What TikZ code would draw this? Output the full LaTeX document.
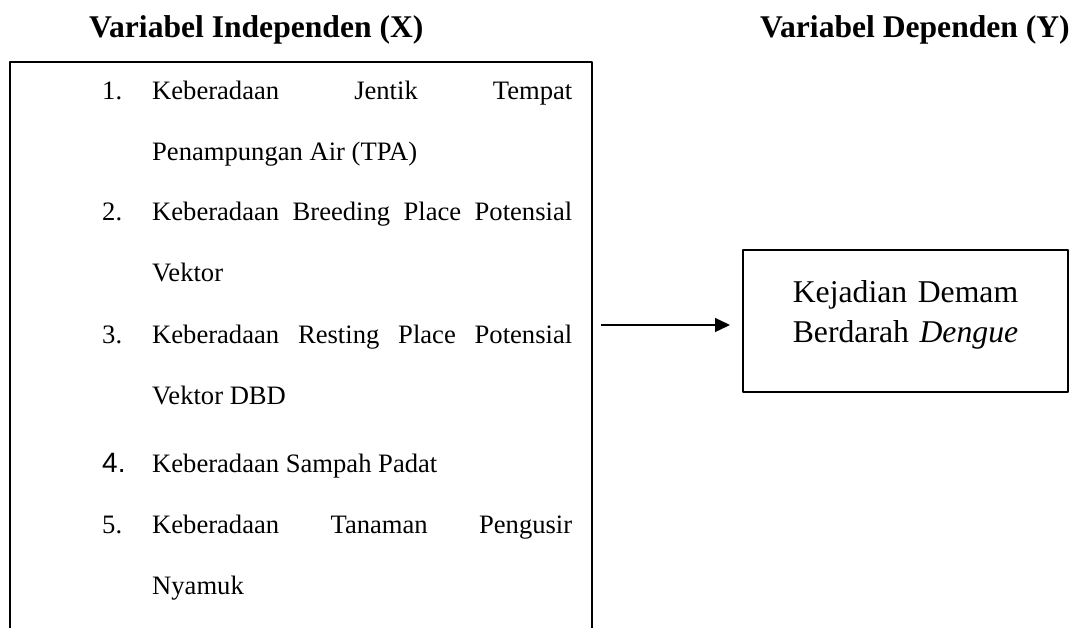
\documentclass[tikz,border=0pt]{standalone}
\usepackage{fontspec}
\setmainfont{Liberation Serif}
\newfontfamily\angkafont{Liberation Sans}
\usetikzlibrary{arrows.meta,calc}
\tolerance=10000
\hyphenpenalty=10000
\tikzset{
  every picture/.style={line join=round, >=Stealth},
  judul/.style={anchor=base west, inner sep=0pt, font=\fontsize{31.6}{37}\selectfont\bfseries},
  nomor/.style={anchor=base west, inner sep=0pt, font=\fontsize{26.6}{61}\selectfont},
  butir/.style={anchor=base west, inner sep=0pt, text width=420pt, align=justify, font=\fontsize{26.6}{61}\selectfont},
  kotak/.style={draw, line width=2pt, inner sep=0pt, outer sep=0pt},
  panah/.style={-{Triangle[length=15pt,width=14pt]}, line width=1.3pt},
}

\begin{document}
\begin{tikzpicture}[x=1pt,y=-1pt]
\useasboundingbox (0,0) rectangle (1075,628);
% judul
\node[judul] (judulx) at (89,38) {Variabel Independen (X)};
\node[judul] (juduly) at (760,38) {Variabel Dependen (Y)};
% kotak X, terpotong di bawah
\node[kotak, line width=2.4pt, minimum width=582pt, minimum height=638pt] (indep) at (301,381) {};
\node[nomor] (n1) at (102,100) {1.};
\node[butir] (b1) at (152,100) {Keberadaan Jentik Tempat\linebreak Penampungan Air (TPA)};
\node[nomor] (n2) at (102,221) {2.};
\node[butir] (b2) at (152,221) {Keberadaan Breeding Place Potensial\linebreak Vektor};
\node[nomor] (n3) at (102,343) {3.};
\node[butir] (b3) at (152,343) {Keberadaan Resting Place Potensial\linebreak Vektor DBD};
\node[nomor, font=\angkafont\fontsize{28}{61}\selectfont] (n4) at (102,472) {4.};
\node[butir] (b4) at (152,472) {Keberadaan Sampah Padat};
\node[nomor] (n5) at (102,533) {5.};
\node[butir] (b5) at (152,533) {Keberadaan Tanaman Pengusir\linebreak Nyamuk};
% kotak Y
\node[kotak, minimum width=325pt, minimum height=142pt] (kejadian) at (905.5,321) {};
\node[anchor=base, inner sep=0pt, text width=300pt, align=center, font=\fontsize{31.7}{40}\selectfont] (teksy) at (905.5,302) {Kejadian Demam\\Berdarah \textit{Dengue}};
\draw[panah] ($(indep.east |- kejadian.west)+(9,4)$) -- ($(kejadian.west)+(-13,4)$);
\end{tikzpicture}
\end{document}
